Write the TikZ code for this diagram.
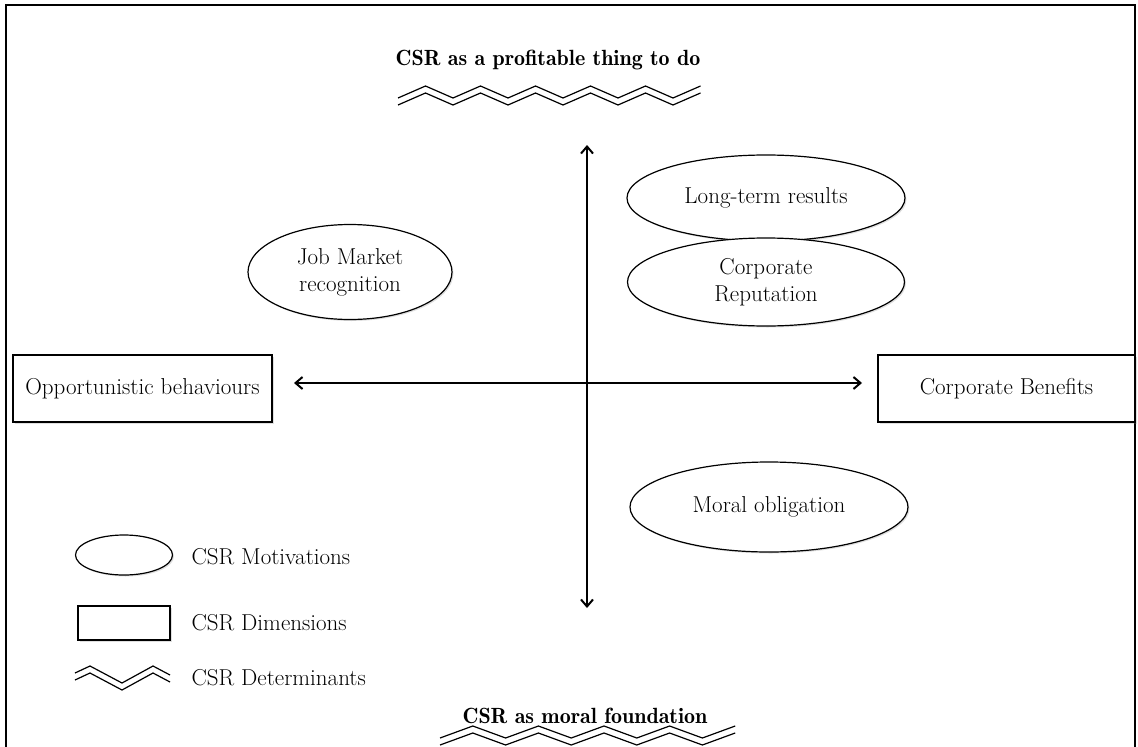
\documentclass[tikz,border=0pt]{standalone}
\usetikzlibrary{arrows.meta,shapes.geometric,shadows}
\tikzset{
  txt/.style={font=\fontsize{23}{27}\selectfont},
  motiv/.style={ellipse, draw, line width=1.2pt, fill=white, txt, align=center, inner sep=0pt,
     drop shadow={shadow xshift=1.5pt, shadow yshift=-1.5pt, opacity=0.25}},
  dimen/.style={rectangle, draw, line width=1.2pt, fill=white, txt, align=center, inner sep=0pt,
     drop shadow={shadow xshift=1.5pt, shadow yshift=-1.5pt, opacity=0.25}},
  axis/.style={line width=2pt, {Straight Barb[length=7pt,width=12pt,line width=2pt]}-{Straight Barb[length=7pt,width=12pt,line width=2pt]}},
  zzline/.style={line width=1.2pt, line join=miter},
  title/.style={font=\fontsize{22}{26}\fontseries{b}\selectfont},
}
\newcommand\zigzag[6]{% x0, y0 (low), segments, dx, amp, gap
  \foreach \off in {0,#6}{
    \draw[zzline] (#1,#2+\off) \foreach \i in {1,...,#3}{ -- ({#1+\i*#4},{#2+\off-mod(\i,2)*#5}) };
  }}
\begin{document}
\begin{tikzpicture}[x=1pt,y=-1pt]
\useasboundingbox (0,0) rectangle (1138,747);
\draw[line width=2pt] (6,5) rectangle (1135,770);

% titles
\node[title] (top) at (548,60) {CSR as a profitable thing to do};
\zigzag{398}{98}{11}{27.5}{12}{7}
\node[title] (bottom) at (585,716) {CSR as moral foundation};
\zigzag{440}{738}{9}{32.8}{12}{7}

% axes
\coordinate (vt) at (587,145);
\coordinate (vb) at (587,608);
\coordinate (hl) at (294,383);
\coordinate (hr) at (862,383);
\draw[axis] (vt) -- (vb);
\draw[axis] (hl) -- (hr);

% dimensions
\node[dimen, minimum width=259pt, minimum height=67pt] (opp) at (142.5,388.5) {Opportunistic behaviours};
\node[dimen, minimum width=257pt, minimum height=67pt] (ben) at (1006.5,388.5) {Corporate Benefits};

% motivations
\node[motiv, minimum width=204pt, minimum height=95pt] (job) at (350,272) {Job Market\\recognition};
\node[motiv, minimum width=278pt, minimum height=86pt] (long) at (766,198) {Long-term results};
\node[motiv, minimum width=277pt, minimum height=88pt] (rep) at (766,282) {Corporate\\Reputation};
\node[motiv, minimum width=278pt, minimum height=90pt] (moral) at (769,507) {Moral obligation};

% legend
\node[motiv, minimum width=97pt, minimum height=40pt] (lgE) at (124,555) {};
\node[txt, anchor=west] (lgEt) at (188,557) {CSR Motivations};
\node[dimen, minimum width=92pt, minimum height=34pt] (lgR) at (124,623) {};
\node[txt, anchor=west] (lgRt) at (188,623) {CSR Dimensions};
\foreach \off in {0,7}{
  \draw[zzline] (75,673+\off) -- (90,666+\off) -- (122,683+\off) -- (153,666+\off) -- (170,675+\off);
}
\node[txt, anchor=west] (lgZt) at (188,678) {CSR Determinants};
\end{tikzpicture}
\end{document}
